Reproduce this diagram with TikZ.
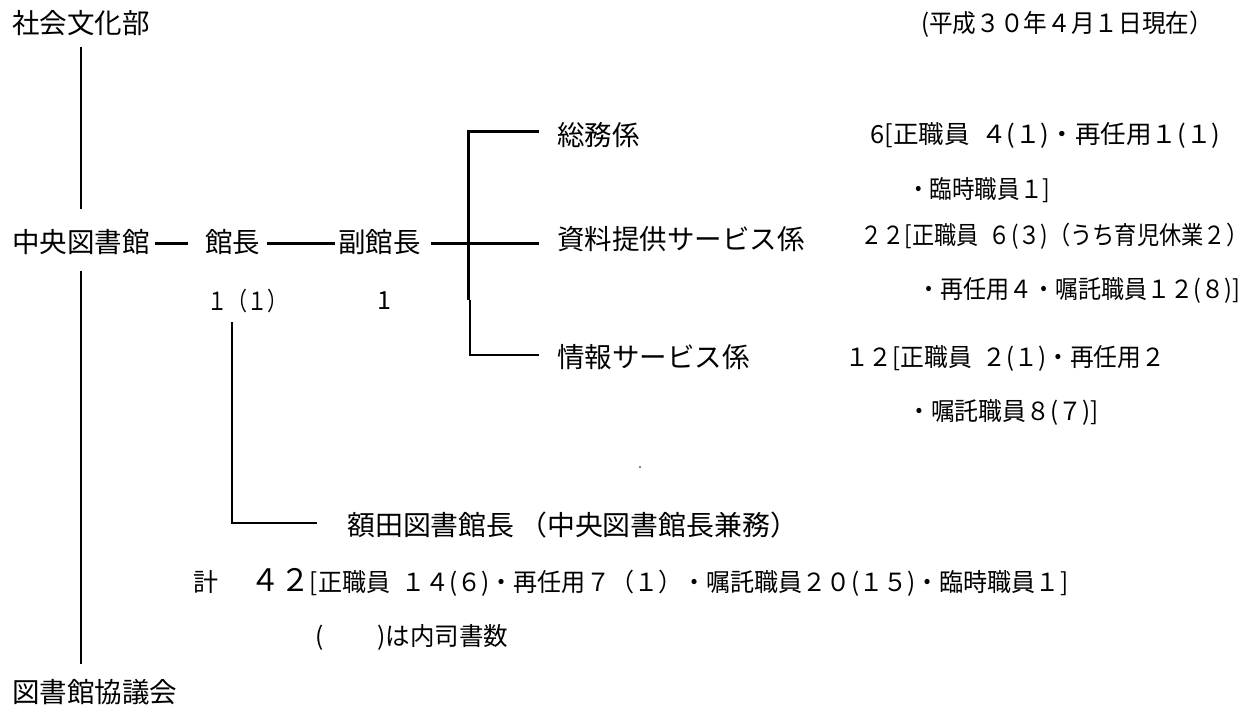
\documentclass[tikz,border=0pt]{standalone}
\usepackage{fontspec}
\setmainfont{Noto Sans CJK JP}
\usepackage{graphicx}
\newcommand{\fitw}[2]{\resizebox{#1pt}{\height}{#2}}
\tikzset{
  lbl/.style={anchor=west, inner sep=0pt, font=\fontsize{27.5}{30}\selectfont},
  sm/.style={anchor=west, inner sep=0pt, font=\fontsize{25}{27}\selectfont},
  num/.style={anchor=west, inner sep=0pt, font=\fontsize{25}{27}\selectfont},
  conn/.style={line width=3pt},
  conntwo/.style={line width=2.6pt},
  thinline/.style={line width=2pt}
}
\begin{document}
\begin{tikzpicture}[x=1pt,y=-1pt]
\useasboundingbox (0,0) rectangle (1260,706);
% labels
\node[lbl] (shakai) at (12,23) {社会文化部};
\node[sm] (date) at (921,24) {\fitw{292}{(平成３０年４月１日現在）}};
\node[lbl] (chuo) at (12,242) {中央図書館};
\node[lbl] (kancho) at (205,242) {館長};
\node[lbl] (fuku) at (338,242) {副館長};
\node[lbl] (somu) at (557,135) {総務係};
\node[lbl] (shiryo) at (557,239) {資料提供サービス係};
\node[lbl] (joho) at (557,357) {情報サービス係};
\node[lbl] (kyogi) at (12,692) {図書館協議会};
\node[lbl] (nukata) at (347,525) {\fitw{451}{額田図書館長\,（中央図書館長兼務）}};
% counts
\node[num] (n1) at (207,301) {\fitw{80}{１（１）}};
\node[num] (n2) at (377,301) {1};
\node[sm] (somuA) at (870,135) {\fitw{350}{6[正職員\ \ ４(１)・再任用１(１)}};
\node[sm] (somuB) at (907,190) {\fitw{143}{・臨時職員１]}};
\node[sm] (shiryoA) at (860,236) {\fitw{388}{２２[正職員\ \ ６(３)（うち育児休業２）}};
\node[sm] (shiryoB) at (917,290) {\fitw{323}{・再任用４・嘱託職員１２(８)]}};
\node[sm] (johoA) at (845,358) {\fitw{320}{１２[正職員\ \ ２(１)・再任用２}};
\node[sm] (johoB) at (907,412) {\fitw{191}{・嘱託職員８(７)]}};
\node[sm] (kei) at (193,582) {計};
\node[sm] (total) at (250,582) {\fitw{818}{{\fontsize{31}{32}\selectfont ４２}[正職員\ \ １４(６)・再任用７（１）・嘱託職員２０(１５)・臨時職員１]}};
\node[sm] (note) at (315,637) {\fitw{193}{(\hspace{2.2em})は内司書数}};
% coordinates
\coordinate (bt) at (468,300);
\coordinate (nk) at (232,322);
\coordinate (kb) at (80,664);
% connectors
\draw[thinline] ([yshift=-11pt]shakai.south) -- ([yshift=20pt]chuo.north);
\draw[conntwo] ([yshift=-16pt]chuo.south) -- (chuo.south |- kb);
\draw[conn] ([xshift=5.5pt,yshift=-1pt]chuo.east) -- ([xshift=-17pt,yshift=-1pt]kancho.west);
\draw[conn] ([xshift=7pt,yshift=-1pt]kancho.east) -- ([xshift=-3pt,yshift=-1pt]fuku.west);
\draw[conn] ([xshift=10pt,yshift=-1pt]fuku.east) -- ([xshift=-18pt,yshift=-4pt]shiryo.west);
\draw[conn] ([xshift=-18pt,yshift=3pt]somu.west) -| (bt);
\draw[thinline] ([xshift=2pt]bt) |- ([xshift=-18pt,yshift=2pt]joho.west);
\draw[conntwo] (nk) |- ([xshift=-30pt,yshift=2pt]nukata.west);
\fill (640,467) circle (0.8pt);
\end{tikzpicture}
\end{document}
